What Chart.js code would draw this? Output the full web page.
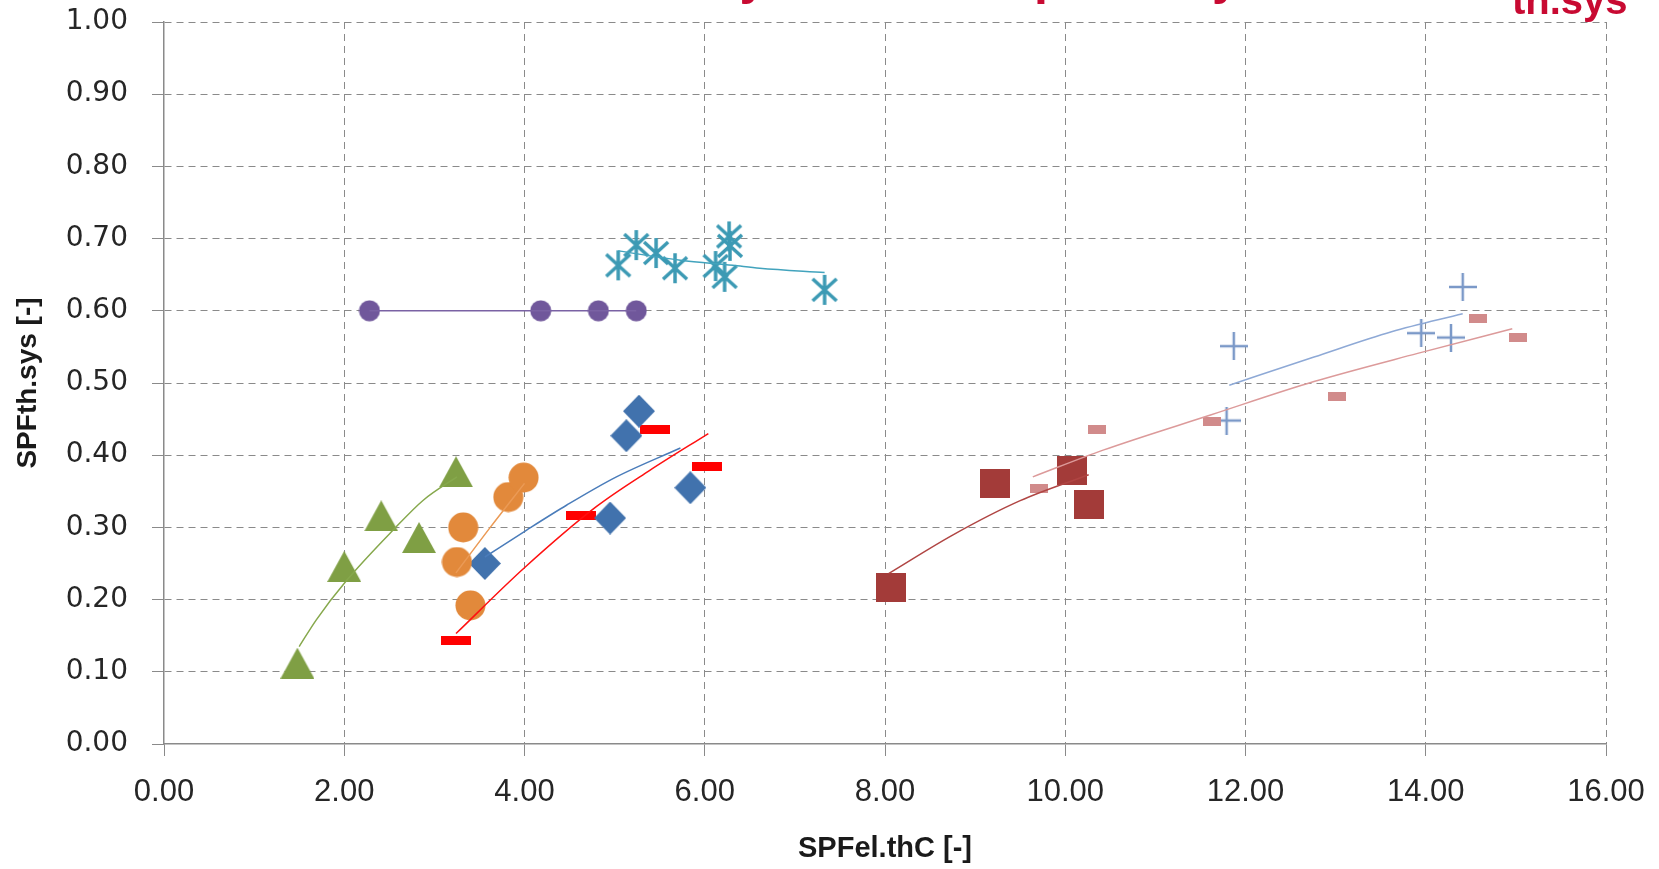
<!DOCTYPE html>
<html>
<head>
<meta charset="utf-8">
<script src="https://cdn.jsdelivr.net/npm/chart.js@4.4.1/dist/chart.umd.min.js"></script>
<style>
  html, body { margin: 0; padding: 0; background: #ffffff; }
</style>
</head>
<body>
<canvas id="spfChart" width="1659" height="869"></canvas>
<script>
// Title (only its lower edge is visible in the original)
const titleMain = 'Efficiency of the compared systems: SPF';
const titleSub = 'th.sys';

// Axis ticks
const xTicks = [0, 2, 4, 6, 8, 10, 12, 14, 16];
const yTicks = [0, 0.1, 0.2, 0.3, 0.4, 0.5, 0.6, 0.7, 0.8, 0.9, 1.0];

// Series values (SPFel.thC, SPFth.sys)
const triX = [1.48, 2.00, 2.41, 2.83, 3.24];
const triY = [0.112, 0.246, 0.316, 0.286, 0.377];
const triFitX = [1.50, 1.69, 2.03, 2.54, 2.88, 3.25];
const triFitY = [0.135, 0.172, 0.227, 0.296, 0.338, 0.370];

const circX = [3.32, 3.25, 3.40, 3.82, 3.99];
const circY = [0.300, 0.252, 0.192, 0.342, 0.369];
const circFitX = [3.24, 3.62, 4.00];
const circFitY = [0.237, 0.300, 0.361];

const diaX = [3.56, 4.95, 5.13, 5.27, 5.84];
const diaY = [0.250, 0.313, 0.427, 0.461, 0.355];
const diaFitX = [3.56, 4.02, 4.47, 5.02, 5.73];
const diaFitY = [0.259, 0.296, 0.331, 0.370, 0.410];

const dashX = [3.24, 4.63, 5.45, 6.03];
const dashY = [0.143, 0.316, 0.436, 0.385];
const dashFitX = [3.24, 3.99, 4.80, 5.39, 6.04];
const dashFitY = [0.153, 0.243, 0.329, 0.379, 0.430];

const dotX = [2.28, 4.18, 4.82, 5.24];
const dotY = [0.600, 0.600, 0.600, 0.600];

const starX = [5.04, 5.24, 5.46, 5.67, 6.12, 6.22, 6.27, 6.28, 7.33];
const starY = [0.663, 0.691, 0.680, 0.659, 0.662, 0.647, 0.703, 0.690, 0.629];
const starFitX = [5.04, 5.73, 6.31, 6.61, 7.33];
const starFitY = [0.683, 0.670, 0.663, 0.659, 0.653];

const sqX = [8.07, 9.22, 10.07, 10.26];
const sqY = [0.217, 0.361, 0.379, 0.332];
const sqFitX = [8.04, 8.76, 9.50, 10.26];
const sqFitY = [0.236, 0.290, 0.337, 0.373];

const rectX = [9.71, 10.35, 11.63, 13.01, 14.58, 15.02];
const rectY = [0.354, 0.436, 0.447, 0.481, 0.590, 0.563];
const rectFitX = [9.64, 10.42, 11.62, 12.76, 13.91, 14.96];
const rectFitY = [0.370, 0.407, 0.456, 0.502, 0.541, 0.575];

const plusX = [11.87, 11.79, 13.95, 14.28, 14.41];
const plusY = [0.551, 0.448, 0.569, 0.563, 0.633];
const plusFitX = [11.82, 12.76, 13.62, 14.41];
const plusFitY = [0.497, 0.536, 0.571, 0.596];

// build {x, y} pairs for the library
function pairs(xs, ys) {
    return xs.map((x, i) => ({ x: x, y: ys[i] }));
}

// small canvases used as point styles
function makeMarker(w, h, paint) {
    const cv = document.createElement('canvas');
    cv.width = w;
    cv.height = h;
    paint(cv.getContext('2d'), w, h);
    return cv;
}

const triMarker = makeMarker(34, 31, (g, w, h) => {
    g.fillStyle = '#7f9f44';
    g.beginPath(); g.moveTo(w / 2, 0); g.lineTo(w, h); g.lineTo(0, h); g.closePath(); g.fill();
});
const circMarker = makeMarker(31, 31, (g) => {
    g.fillStyle = '#e2893b';
    g.beginPath(); g.arc(15.5, 15.5, 15, 0, Math.PI * 2); g.fill();
});
const diaMarker = makeMarker(32, 33, (g, w, h) => {
    g.fillStyle = '#4172ad';
    g.beginPath(); g.moveTo(w / 2, 0); g.lineTo(w, h / 2); g.lineTo(w / 2, h); g.lineTo(0, h / 2); g.closePath(); g.fill();
});
const dashMarker = makeMarker(30, 9, (g, w, h) => {
    g.fillStyle = '#ff0000';
    g.fillRect(0, 0, w, h);
});
const dotMarker = makeMarker(22, 22, (g) => {
    g.fillStyle = '#70579b';
    g.beginPath(); g.arc(11, 11, 10.5, 0, Math.PI * 2); g.fill();
});
const starMarker = makeMarker(32, 32, (g) => {
    g.strokeStyle = '#3c9ab4';
    g.lineWidth = 3.5;
    g.beginPath();
    g.moveTo(16, 1); g.lineTo(16, 31);
    g.moveTo(4, 5); g.lineTo(28, 27);
    g.moveTo(28, 5); g.lineTo(4, 27);
    g.stroke();
});
const sqMarker = makeMarker(30, 29, (g, w, h) => {
    g.fillStyle = '#a33b39';
    g.fillRect(0, 0, w, h);
});
const rectMarker = makeMarker(18, 9, (g, w, h) => {
    g.fillStyle = '#d18b8b';
    g.fillRect(0, 0, w, h);
});
const plusMarker = makeMarker(28, 28, (g) => {
    g.strokeStyle = '#7b99c8';
    g.lineWidth = 2.5;
    g.beginPath();
    g.moveTo(14, 0); g.lineTo(14, 28);
    g.moveTo(0, 14); g.lineTo(28, 14);
    g.stroke();
});

function markers(xs, ys, style) {
    return {
        data: pairs(xs, ys),
        showLine: false,
        pointStyle: style,
        pointRadius: 12,
        pointHoverRadius: 12,
        order: 2
    };
}

function trend(xs, ys, color) {
    return {
        data: pairs(xs, ys),
        showLine: true,
        borderColor: color,
        borderWidth: 1.5,
        pointRadius: 0,
        pointHoverRadius: 0,
        fill: false,
        cubicInterpolationMode: 'monotone',
        order: 1
    };
}

// draws the cut-off red title at the very top
const cutTitle = {
    id: 'cutTitle',
    afterDraw(chart) {
        const c = chart.ctx;
        c.save();
        c.fillStyle = '#c80a32';
        c.font = 'bold 50px "Liberation Sans", Arial, sans-serif';
        c.textBaseline = 'alphabetic';
        c.textAlign = 'right';
        c.fillText(titleMain, 1512, -6);
        c.font = 'bold 40px "Liberation Sans", Arial, sans-serif';
        c.textAlign = 'left';
        c.fillText(titleSub, 1512, 14);
        c.restore();
    }
};

const gridColor = '#8a8a8a';
// the zero line is covered by the solid axis line
const gridLine = (c) => (c.tick && c.tick.value === 0 ? 'rgba(0,0,0,0)' : gridColor);

const ctx = document.getElementById('spfChart').getContext('2d');
const chart = new Chart(ctx, {
    type: 'scatter',
    data: {
        datasets: [
            markers(triX, triY, triMarker),
            trend(triFitX, triFitY, '#86a84c'),
            markers(circX, circY, circMarker),
            trend(circFitX, circFitY, '#eb9a55'),
            markers(diaX, diaY, diaMarker),
            trend(diaFitX, diaFitY, '#4a7cba'),
            markers(dashX, dashY, dashMarker),
            trend(dashFitX, dashFitY, '#ff1010'),
            markers(dotX, dotY, dotMarker),
            trend(dotX, dotY, '#7a62a4'),
            markers(starX, starY, starMarker),
            trend(starFitX, starFitY, '#42a3bd'),
            markers(sqX, sqY, sqMarker),
            trend(sqFitX, sqFitY, '#b04543'),
            markers(rectX, rectY, rectMarker),
            trend(rectFitX, rectFitY, '#dc9a9a'),
            markers(plusX, plusY, plusMarker),
            trend(plusFitX, plusFitY, '#8ea9d6')
        ]
    },
    options: {
        responsive: false,
        animation: false,
        layout: { padding: { top: 22, right: 53, bottom: 0, left: 0 } },
        plugins: {
            legend: { display: false },
            tooltip: { enabled: false },
            title: { display: false }
        },
        scales: {
            x: {
                type: 'linear',
                min: xTicks[0],
                max: xTicks[xTicks.length - 1],
                afterBuildTicks: (scale) => { scale.ticks = xTicks.map(v => ({ value: v })); },
                afterFit: (scale) => {
                    scale.height = 125;
                    scale.paddingLeft = 0;
                    scale.paddingRight = 0;
                },
                grid: { color: gridLine, lineWidth: 1, tickLength: 12, tickColor: gridColor },
                border: { display: true, color: gridColor, width: 1.5, dash: [7, 5] },
                ticks: {
                    padding: 18,
                    color: '#262626',
                    font: { family: '"Liberation Sans", Arial, sans-serif', size: 31 },
                    callback: (v) => Number(v).toFixed(2)
                },
                title: {
                    display: true,
                    text: 'SPFel.thC [-]',
                    color: '#1a1a1a',
                    font: { family: '"Liberation Sans", Arial, sans-serif', size: 29, weight: 'bold' },
                    padding: { top: 0, bottom: 3 }
                }
            },
            y: {
                type: 'linear',
                min: yTicks[0],
                max: yTicks[yTicks.length - 1],
                afterBuildTicks: (scale) => { scale.ticks = yTicks.map(v => ({ value: v })); },
                afterFit: (scale) => {
                    scale.width = 164;
                    scale.paddingTop = 0;
                    scale.paddingBottom = 0;
                },
                grid: { color: gridLine, lineWidth: 1, tickLength: 12, tickColor: gridColor },
                border: { display: true, color: gridColor, width: 1.5, dash: [7, 5] },
                ticks: {
                    padding: 24,
                    color: '#262626',
                    font: { family: '"DejaVu Sans", sans-serif', size: 28 },
                    callback: (v) => Number(v).toFixed(2)
                },
                title: {
                    display: true,
                    text: 'SPFth.sys [-]',
                    color: '#1a1a1a',
                    font: { family: '"Liberation Sans", Arial, sans-serif', size: 28, weight: 'bold' },
                    padding: { top: 11, bottom: 0 }
                }
            }
        }
    },
    plugins: [cutTitle]
});
</script>
</body>
</html>
